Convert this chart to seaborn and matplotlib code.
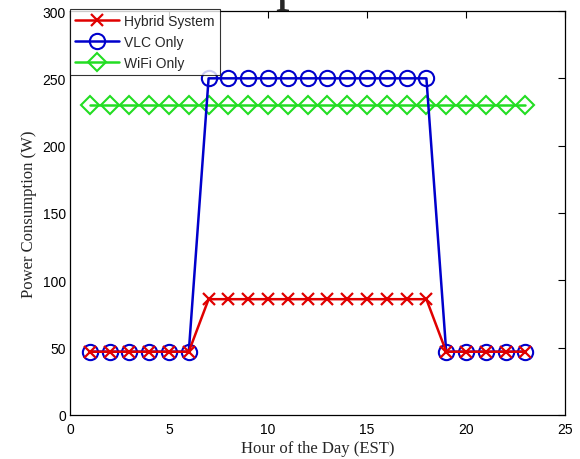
import matplotlib
matplotlib.use("Agg")
import matplotlib.pyplot as plt
import seaborn as sns

# Hourly power draw of three indoor networking set-ups
hours = [1, 2, 3, 4, 5, 6, 7, 8, 9, 10, 11, 12, 13, 14, 15, 16, 17, 18, 19, 20, 21, 22, 23]
hybrid = [47, 47, 47, 47, 47, 47, 86, 86, 86, 86, 86, 86, 86, 86, 86, 86, 86, 86, 47, 47, 47, 47, 47]
vlc_only = [47, 47, 47, 47, 47, 47, 250, 250, 250, 250, 250, 250, 250, 250, 250, 250, 250, 250, 47, 47, 47, 47, 47]
wifi_only = [230, 230, 230, 230, 230, 230, 230, 230, 230, 230, 230, 230, 230, 230, 230, 230, 230, 230, 230, 230, 230, 230, 230]

series_names = ["Hybrid System", "VLC Only", "WiFi Only"]
x_ticks = [0, 5, 10, 15, 20, 25]
y_ticks = [0, 50, 100, 150, 200, 250, 300]

sns.set_style("white")
plt.rcParams["font.family"] = ["Liberation Sans", "DejaVu Sans"]

fig = plt.figure(figsize=(5.8, 4.6), dpi=100)
ax = fig.add_axes([70 / 580, 1 - 416 / 460, 495 / 580, 404 / 460])

styles = {
    "Hybrid System": dict(color="#e00000", marker="x", ms=9, mew=1.6, z=4),
    "VLC Only": dict(color="#0000cc", marker="o", ms=11, mew=1.5, z=3),
    "WiFi Only": dict(color="#22dd22", marker="D", ms=9, mew=1.5, z=2),
}
values = {"Hybrid System": hybrid, "VLC Only": vlc_only, "WiFi Only": wifi_only}

for name in ["WiFi Only", "VLC Only", "Hybrid System"]:
    st = styles[name]
    sns.lineplot(x=hours, y=values[name], ax=ax, color=st["color"], marker=st["marker"],
                 markersize=st["ms"], markeredgewidth=st["mew"], markeredgecolor=st["color"],
                 markerfacecolor="none", linewidth=1.8, label=name, zorder=st["z"])

handles, labels = ax.get_legend_handles_labels()
order = [labels.index(n) for n in series_names]
leg = ax.legend([handles[i] for i in order], [labels[i] for i in order], loc="upper left",
                bbox_to_anchor=(0, 1.005), borderaxespad=0, fontsize=10, frameon=True,
                fancybox=False, edgecolor="black", handlelength=3.2, handletextpad=0.35,
                borderpad=0.35, labelspacing=0.5)
leg.get_frame().set_linewidth(0.8)
leg._legend_box.align = "left"

ax.set_xlim(0, 25)
ax.set_ylim(0, 300)
ax.set_xticks(x_ticks)
ax.set_yticks(y_ticks)
ax.tick_params(direction="in", length=5, width=0.8, top=True, right=True,
               labelsize=10, colors="black", pad=3)
ax.tick_params(axis="x", pad=5)
for sp in ax.spines.values():
    sp.set_color("black")
    sp.set_linewidth(0.9)

ax.set_xlabel("Hour of the Day (EST)", fontfamily="Liberation Serif", fontsize=12, labelpad=3)
ax.set_ylabel("Power Consumption (W)", fontfamily="Liberation Serif", fontsize=12, labelpad=4)

# Lower part of the heading sitting above the axes
fig.text(275 / 580, 1 + 1 / 460, "p", fontfamily="Liberation Serif",
         fontsize=40, ha="left", va="baseline")

fig.savefig("out.png", dpi=100, facecolor="white")
